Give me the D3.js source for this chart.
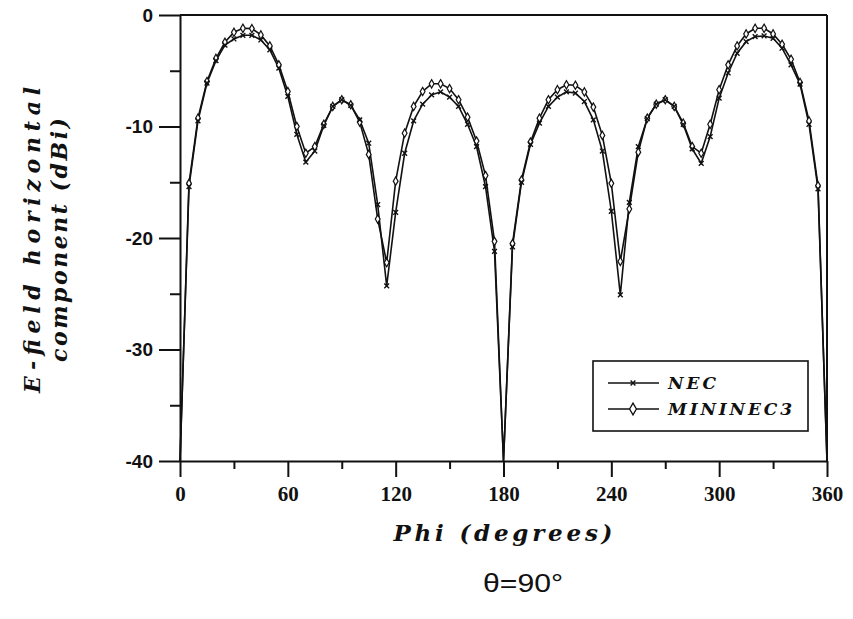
<!DOCTYPE html>
<html>
<head>
<meta charset="utf-8">
<script src="https://cdn.jsdelivr.net/npm/d3@7"></script>
<style>
  body { margin: 0; background: #fff; }
  svg { display: block; }
</style>
</head>
<body>
<div id="chart"></div>
<script>
// phi every 5 degrees (dBi)
var phi = [0,5,10,15,20,25,30,35,40,45,50,55,60,65,70,75,80,85,90,95,100,105,110,115,120,
  125,130,135,140,145,150,155,160,165,170,175,180,185,190,195,200,205,210,215,220,225,230,235,
  240,245,250,255,260,265,270,275,280,285,290,295,300,305,310,315,320,325,330,335,340,345,350,355,360];

var nec = [-40,-15.4,-9.5,-6.1,-4.1,-2.7,-2.15,-1.82,-1.82,-2.24,-3.13,-4.77,-7.3,-10.7,-13.2,-12.2,
  -9.9,-8.2,-7.6,-8.1,-9.4,-11.5,-17.0,-24.3,-17.7,-12.4,-9.5,-8.0,-7.16,-6.9,-7.37,-8.2,-9.8,-11.8,
  -15.4,-21.2,-40,-20.8,-15.0,-11.6,-9.7,-8.2,-7.37,-6.9,-7.0,-7.76,-9.4,-12.2,-17.6,-25.1,-16.8,
  -11.8,-9.3,-8.0,-7.6,-8.2,-9.8,-12.0,-13.3,-10.9,-7.46,-5.2,-3.43,-2.39,-1.94,-1.88,-2.09,-2.98,
  -4.47,-6.2,-9.8,-15.6,-40];

var mininec = [-40,-15.1,-9.25,-5.97,-3.9,-2.45,-1.55,-1.19,-1.22,-1.79,-2.77,-4.47,-6.86,-10.0,-12.4,
  -11.8,-9.8,-8.2,-7.6,-8.05,-9.6,-12.5,-18.3,-22.2,-14.9,-10.6,-8.2,-6.86,-6.17,-6.17,-6.6,-7.6,
  -9.16,-11.3,-14.4,-20.3,-40,-20.5,-14.8,-11.4,-9.25,-7.6,-6.7,-6.26,-6.3,-6.9,-8.26,-10.8,-15.1,
  -22.1,-17.4,-12.3,-9.25,-8.0,-7.6,-8.2,-9.7,-11.8,-12.4,-9.8,-6.7,-4.47,-2.77,-1.7,-1.19,-1.19,
  -1.7,-2.63,-3.97,-6.05,-9.5,-15.3,-40];

var xTicks = [0, 60, 120, 180, 240, 300, 360];
var xMinor = [30, 90, 150, 210, 270, 330];
var yTicks = [0, -10, -20, -30, -40];
var yMinor = [-5, -15, -25, -35];

var seriesNames = ["NEC", "MININEC3"];

var width = 853;
var height = 619;

var svg = d3.select("#chart").append("svg")
    .attr("width", width)
    .attr("height", height);

var x = d3.scaleLinear().domain([0, 360]).range([180, 827]);
var y = d3.scaleLinear().domain([-40, 0]).range([461, 15]);

var serif = "'Liberation Serif', 'Times New Roman', serif";
var titleFont = "'DejaVu Serif', 'Liberation Serif', serif";

// frame: top and right
svg.append("line")
    .attr("x1", x(0)).attr("x2", x(360))
    .attr("y1", y(0)).attr("y2", y(0))
    .attr("stroke", "#111").attr("stroke-width", 2);
svg.append("line")
    .attr("x1", x(360)).attr("x2", x(360))
    .attr("y1", y(0)).attr("y2", y(-40))
    .attr("stroke", "#111").attr("stroke-width", 2);

// x axis, major + minor ticks
var xAxis = svg.append("g")
    .attr("transform", "translate(0," + y(-40) + ")")
    .call(d3.axisBottom(x).tickValues(xTicks).tickSize(16).tickPadding(9).tickSizeOuter(0));
svg.append("g")
    .attr("transform", "translate(0," + y(-40) + ")")
    .call(d3.axisBottom(x).tickValues(xMinor).tickSize(8).tickFormat("").tickSizeOuter(0))
    .select(".domain").remove();

xAxis.selectAll("text")
    .attr("font-family", serif)
    .attr("font-weight", "bold")
    .attr("font-size", 21)
    .attr("fill", "#111");

// y axis (plain hyphen, as in the figure)
var yAxis = svg.append("g")
    .attr("transform", "translate(" + x(0) + ",0)")
    .call(d3.axisLeft(y).tickValues(yTicks).tickSize(21).tickPadding(6).tickSizeOuter(0)
      .tickFormat(function(d) { return String(d); }));
svg.append("g")
    .attr("transform", "translate(" + x(0) + ",0)")
    .call(d3.axisLeft(y).tickValues(yMinor).tickSize(10).tickFormat("").tickSizeOuter(0))
    .select(".domain").remove();

yAxis.selectAll("text")
    .attr("font-family", "'Liberation Sans', Arial, sans-serif")
    .attr("font-weight", "bold")
    .attr("font-size", 19)
    .attr("fill", "#111");

svg.selectAll(".domain, .tick line")
    .attr("stroke", "#111")
    .attr("stroke-width", 2);

// series
var line = d3.line()
    .x(function(d, i) { return x(phi[i]); })
    .y(function(d) { return y(d); });

svg.append("path")
    .datum(mininec)
    .attr("d", line)
    .attr("fill", "none")
    .attr("stroke", "#111")
    .attr("stroke-width", 1.6);

svg.append("path")
    .datum(nec)
    .attr("d", line)
    .attr("fill", "none")
    .attr("stroke", "#111")
    .attr("stroke-width", 1.6);

var diamond = d3.symbol().type(d3.symbolDiamond).size(20);

function drawCross(g, cx, cy) {
  var s = 2.4;
  g.append("path")
    .attr("d", "M" + (cx - s) + "," + (cy - s) + "L" + (cx + s) + "," + (cy + s) +
               "M" + (cx - s) + "," + (cy + s) + "L" + (cx + s) + "," + (cy - s))
    .attr("stroke", "#111")
    .attr("stroke-width", 1.4);
}

var markers = svg.append("g");
mininec.forEach(function(v, i) {
  if (v <= -40) return;
  markers.append("path")
    .attr("d", diamond)
    .attr("transform", "translate(" + x(phi[i]) + "," + y(v) + ")")
    .attr("fill", "#fff")
    .attr("stroke", "#111")
    .attr("stroke-width", 1.2);
});
nec.forEach(function(v, i) {
  if (v <= -40) return;
  drawCross(markers, x(phi[i]), y(v));
});

// legend
var legend = svg.append("g");
legend.append("rect")
    .attr("x", 593).attr("y", 361)
    .attr("width", 215).attr("height", 70)
    .attr("fill", "#fff")
    .attr("stroke", "#111")
    .attr("stroke-width", 1.6);

var legendY = [383, 409];
seriesNames.forEach(function(name, i) {
  legend.append("line")
    .attr("x1", 608).attr("x2", 659)
    .attr("y1", legendY[i]).attr("y2", legendY[i])
    .attr("stroke", "#111").attr("stroke-width", 1.4);
  if (i === 0) {
    drawCross(legend, 633, legendY[i]);
  } else {
    legend.append("path")
      .attr("d", d3.symbol().type(d3.symbolDiamond).size(40))
      .attr("transform", "translate(633," + legendY[i] + ")")
      .attr("fill", "#fff").attr("stroke", "#111").attr("stroke-width", 1.3);
  }
  legend.append("text")
    .attr("x", 668).attr("y", legendY[i] + 6)
    .attr("font-family", titleFont)
    .attr("font-weight", "bold")
    .attr("font-style", "italic")
    .attr("font-size", 17)
    .attr("textLength", i === 0 ? 48 : 124)
    .attr("lengthAdjust", "spacing")
    .attr("fill", "#111")
    .text(name);
});

// axis titles
svg.append("text")
    .attr("transform", "translate(40,240) rotate(-90)")
    .attr("text-anchor", "middle")
    .attr("font-family", titleFont)
    .attr("font-weight", "bold")
    .attr("font-style", "italic")
    .attr("font-size", 22)
    .attr("textLength", 306)
    .attr("lengthAdjust", "spacing")
    .attr("fill", "#111")
    .text("E-field horizontal");

svg.append("text")
    .attr("transform", "translate(67,240) rotate(-90)")
    .attr("text-anchor", "middle")
    .attr("font-family", titleFont)
    .attr("font-weight", "bold")
    .attr("font-style", "italic")
    .attr("font-size", 22)
    .attr("textLength", 244)
    .attr("lengthAdjust", "spacing")
    .attr("fill", "#111")
    .text("component (dBi)");

svg.append("text")
    .attr("x", 503).attr("y", 541)
    .attr("text-anchor", "middle")
    .attr("font-family", titleFont)
    .attr("font-weight", "bold")
    .attr("font-style", "italic")
    .attr("font-size", 23)
    .attr("textLength", 219)
    .attr("lengthAdjust", "spacing")
    .attr("fill", "#111")
    .text("Phi (degrees)");

svg.append("text")
    .attr("x", 523).attr("y", 592)
    .attr("text-anchor", "middle")
    .attr("font-family", "'Liberation Sans Narrow', 'Liberation Sans', Arial, sans-serif")
    .attr("font-size", 26)
    .attr("textLength", 80)
    .attr("lengthAdjust", "spacingAndGlyphs")
    .attr("fill", "#111")
    .text("θ=90°");
</script>
</body>
</html>
